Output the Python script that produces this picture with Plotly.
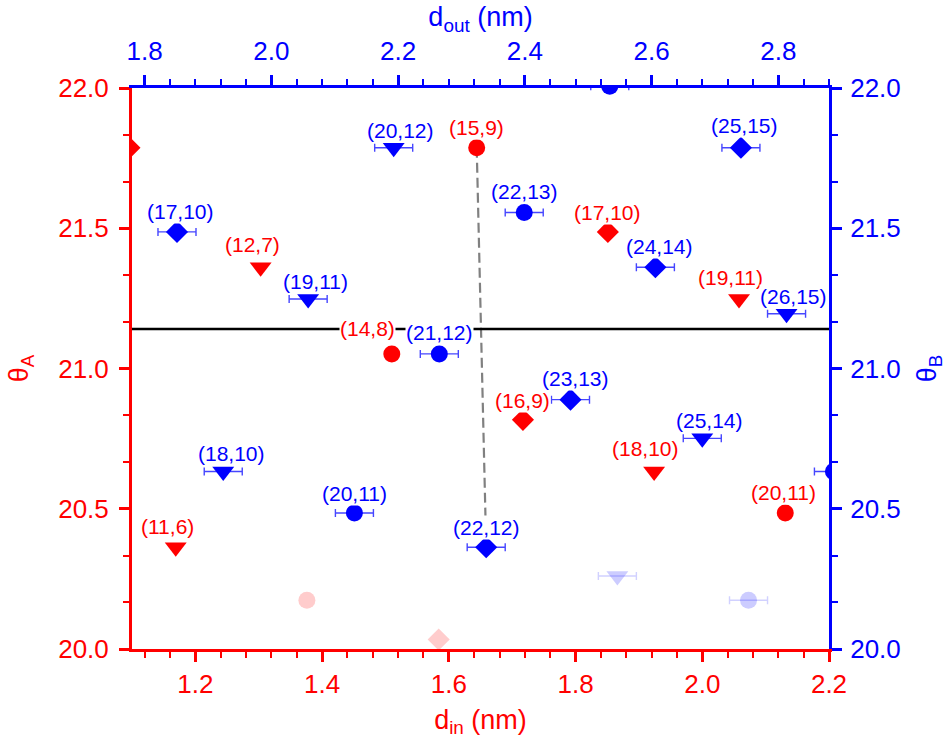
import plotly.graph_objects as go

# ---------------------------------------------------------------------------
# Data: chiral indices (n,m), tube diameters (nm) and chiral angles (deg)
# Red set: inner tube, plotted against d_in / θ_A
# Blue set: outer tube, plotted against d_out / θ_B
# ---------------------------------------------------------------------------
RED_CIRCLE_LABELS = ["(14,8)", "(15,9)", "(20,11)"]
RED_CIRCLE_D = [1.510, 1.644, 2.131]
RED_CIRCLE_THETA = [21.052, 21.787, 20.485]

RED_DIAMOND_LABELS = ["", "(17,10)", "(16,9)"]
RED_DIAMOND_D = [1.096, 1.851, 1.717]
RED_DIAMOND_THETA = [21.787, 21.487, 20.817]

RED_TRIANGLE_LABELS = ["(12,7)", "(19,11)", "(11,6)", "(18,10)"]
RED_TRIANGLE_D = [1.303, 2.058, 1.169, 1.924]
RED_TRIANGLE_THETA = [21.361, 21.248, 20.363, 20.633]

RED_FADED_CIRCLE_D = [1.376]
RED_FADED_CIRCLE_THETA = [20.174]
RED_FADED_DIAMOND_D = [1.584]
RED_FADED_DIAMOND_THETA = [20.034]

BLUE_CIRCLE_LABELS = ["(21,12)", "(22,13)", "(20,11)", "", ""]
BLUE_CIRCLE_D = [2.265, 2.399, 2.131, 2.534, 2.887]
BLUE_CIRCLE_THETA = [21.052, 21.556, 20.485, 22.006, 20.633]

BLUE_DIAMOND_LABELS = ["(17,10)", "(25,15)", "(24,14)", "(23,13)", "(22,12)"]
BLUE_DIAMOND_D = [1.851, 2.741, 2.606, 2.472, 2.339]
BLUE_DIAMOND_THETA = [21.487, 21.787, 21.361, 20.889, 20.363]

BLUE_TRIANGLE_LABELS = ["(20,12)", "(19,11)", "(26,15)", "(25,14)", "(18,10)"]
BLUE_TRIANGLE_D = [2.193, 2.058, 2.813, 2.680, 1.924]
BLUE_TRIANGLE_THETA = [21.787, 21.248, 21.195, 20.751, 20.633]

BLUE_FADED_TRIANGLE_D = [2.546]
BLUE_FADED_TRIANGLE_THETA = [20.260]
BLUE_FADED_CIRCLE_D = [2.753]
BLUE_FADED_CIRCLE_THETA = [20.174]

D_OUT_ERROR = 0.03          # nm, uncertainty of outer diameter
THETA_REFERENCE = 21.141    # horizontal reference angle (deg)

# Axis ranges and ticks
D_IN_RANGE = [1.1, 2.2]
D_OUT_RANGE = [1.78, 2.88]
THETA_RANGE = [20.0, 22.0]

# ---------------------------------------------------------------------------
# Styling
# ---------------------------------------------------------------------------
RED = "#ff0000"
BLUE = "#0000ff"
FONT = "Arial, 'Liberation Sans', sans-serif"
TICK_FONT_SIZE = 26
TITLE_FONT_SIZE = 27
LABEL_FONT_SIZE = 21

SIZE = {"circle": 17, "diamond": 17, "triangle-down": 19}

# label nudges in pixels (dx, dy) relative to the marker centre
LABEL_SHIFT_RED = {
    "(12,7)": (-8, 23), "(14,8)": (-24, 25), "(15,9)": (0, 20),
    "(17,10)": (0, 19), "(19,11)": (-9, 21), "(11,6)": (-8, 21),
    "(16,9)": (0, 19), "(18,10)": (-9, 23), "(20,11)": (-2, 20),
}
LABEL_SHIFT_BLUE = {
    "(20,12)": (7, 17), "(17,10)": (4, 20), "(19,11)": (7, 17),
    "(21,12)": (0, 21), "(22,13)": (0, 21), "(25,15)": (4, 22),
    "(24,14)": (4, 21), "(26,15)": (7, 17), "(23,13)": (5, 21),
    "(25,14)": (7, 18), "(22,12)": (0, 20), "(18,10)": (8, 18),
    "(20,11)": (0, 19),
}

fig = go.Figure()

# dashed guide joining the (15,9) inner tube to the (22,12) outer tube,
# the outer diameter expressed on the d_in scale
i_red = RED_CIRCLE_LABELS.index("(15,9)")
i_blue = BLUE_DIAMOND_LABELS.index("(22,12)")
shift_out_to_in = D_OUT_RANGE[0] - D_IN_RANGE[0]
fig.add_trace(go.Scatter(
    x=[RED_CIRCLE_D[i_red], BLUE_DIAMOND_D[i_blue] - shift_out_to_in],
    y=[RED_CIRCLE_THETA[i_red], BLUE_DIAMOND_THETA[i_blue]],
    mode="lines", line=dict(color="#808080", width=2.2, dash="10px,5px"),
    xaxis="x", yaxis="y", hoverinfo="skip", showlegend=False,
))


def red_trace(xs, ys, symbol, color=RED):
    return go.Scatter(
        x=xs, y=ys, mode="markers", xaxis="x", yaxis="y", showlegend=False,
        marker=dict(symbol=symbol, size=SIZE[symbol], color=color,
                    line=dict(width=0)),
    )


def blue_trace(xs, ys, symbol, color=BLUE, err_color="rgb(70,70,255)"):
    return go.Scatter(
        x=xs, y=ys, mode="markers", xaxis="x2", yaxis="y2", showlegend=False,
        marker=dict(symbol=symbol, size=SIZE[symbol], color=color,
                    line=dict(width=0)),
        error_x=dict(type="constant", value=D_OUT_ERROR, color=err_color,
                     thickness=1.4, width=4),
    )


# faded (tentative) assignments
fig.add_trace(red_trace(RED_FADED_CIRCLE_D, RED_FADED_CIRCLE_THETA, "circle",
                        color="rgba(255,0,0,0.2)"))
fig.add_trace(red_trace(RED_FADED_DIAMOND_D, RED_FADED_DIAMOND_THETA, "diamond",
                        color="rgba(255,0,0,0.2)"))
fig.add_trace(blue_trace(BLUE_FADED_TRIANGLE_D, BLUE_FADED_TRIANGLE_THETA,
                         "triangle-down", color="rgba(0,0,255,0.2)",
                         err_color="rgba(70,70,255,0.25)"))
fig.add_trace(blue_trace(BLUE_FADED_CIRCLE_D, BLUE_FADED_CIRCLE_THETA,
                         "circle", color="rgba(0,0,255,0.2)",
                         err_color="rgba(70,70,255,0.25)"))

# main assignments
fig.add_trace(red_trace(RED_CIRCLE_D, RED_CIRCLE_THETA, "circle"))
fig.add_trace(red_trace(RED_DIAMOND_D, RED_DIAMOND_THETA, "diamond"))
fig.add_trace(red_trace(RED_TRIANGLE_D, RED_TRIANGLE_THETA, "triangle-down"))
fig.add_trace(blue_trace(BLUE_CIRCLE_D, BLUE_CIRCLE_THETA, "circle"))
fig.add_trace(blue_trace(BLUE_DIAMOND_D, BLUE_DIAMOND_THETA, "diamond"))
fig.add_trace(blue_trace(BLUE_TRIANGLE_D, BLUE_TRIANGLE_THETA, "triangle-down"))

# (n,m) labels
annotations = []


def add_labels(labels, xs, ys, shifts, color, xref, yref):
    for lab, x, y in zip(labels, xs, ys):
        if not lab:
            continue
        dx, dy = shifts.get(lab, (0, 20))
        annotations.append(dict(
            x=x, y=y, xref=xref, yref=yref, text=lab, showarrow=False,
            xshift=dx, yshift=dy, bgcolor="white", borderpad=0,
            font=dict(family=FONT, size=LABEL_FONT_SIZE, color=color),
        ))


add_labels(RED_CIRCLE_LABELS, RED_CIRCLE_D, RED_CIRCLE_THETA,
           LABEL_SHIFT_RED, RED, "x", "y")
add_labels(RED_DIAMOND_LABELS, RED_DIAMOND_D, RED_DIAMOND_THETA,
           LABEL_SHIFT_RED, RED, "x", "y")
add_labels(RED_TRIANGLE_LABELS, RED_TRIANGLE_D, RED_TRIANGLE_THETA,
           LABEL_SHIFT_RED, RED, "x", "y")
add_labels(BLUE_CIRCLE_LABELS, BLUE_CIRCLE_D, BLUE_CIRCLE_THETA,
           LABEL_SHIFT_BLUE, BLUE, "x2", "y2")
add_labels(BLUE_DIAMOND_LABELS, BLUE_DIAMOND_D, BLUE_DIAMOND_THETA,
           LABEL_SHIFT_BLUE, BLUE, "x2", "y2")
add_labels(BLUE_TRIANGLE_LABELS, BLUE_TRIANGLE_D, BLUE_TRIANGLE_THETA,
           LABEL_SHIFT_BLUE, BLUE, "x2", "y2")


def axis_style(color, rng, dtick, tick0, minor_dtick, title, side, standoff,
               label_gap):
    return dict(
        range=rng, dtick=dtick, tick0=tick0, tickformat=".1f",
        showgrid=False, zeroline=False, showline=True,
        linecolor=color, linewidth=3,
        ticks="outside", ticklen=10, tickwidth=2.5, tickcolor=color,
        ticklabelstandoff=label_gap,
        tickfont=dict(family=FONT, size=TICK_FONT_SIZE, color=color),
        minor=dict(dtick=minor_dtick, tick0=tick0, ticks="outside",
                   ticklen=6, tickwidth=2, tickcolor=color, showgrid=False),
        title=dict(text=title, standoff=standoff,
                   font=dict(family=FONT, size=TITLE_FONT_SIZE, color=color)),
        side=side, fixedrange=True,
    )


xaxis = axis_style(RED, D_IN_RANGE, 0.2, 1.2, 0.04,
                   "d<sub>in</sub> (nm)", "bottom", 12, 0)
xaxis.update(anchor="y")
xaxis2 = axis_style(BLUE, D_OUT_RANGE, 0.2, 1.8, 0.04,
                    "d<sub>out</sub> (nm)", "top", 0, 5)
xaxis2.update(anchor="y", overlaying="x")
yaxis = axis_style(RED, THETA_RANGE, 0.5, 20.0, 0.5 / 3,
                   "θ<sub>A</sub>", "left", 22, 5)
yaxis.update(anchor="x")
yaxis2 = axis_style(BLUE, THETA_RANGE, 0.5, 20.0, 0.5 / 3,
                    "θ<sub>B</sub>", "right", 18, 3)
yaxis2.update(anchor="x", overlaying="y")

fig.update_layout(
    width=950, height=742,
    margin=dict(l=132, r=119, t=88, b=93),
    paper_bgcolor="white", plot_bgcolor="white",
    font=dict(family=FONT),
    xaxis=xaxis, xaxis2=xaxis2, yaxis=yaxis, yaxis2=yaxis2,
    shapes=[dict(type="line", xref="x domain", x0=0, x1=1,
                 yref="y", y0=THETA_REFERENCE, y1=THETA_REFERENCE,
                 line=dict(color="black", width=2.4))],
    annotations=annotations,
    showlegend=False,
)

fig.write_html("out.html")
